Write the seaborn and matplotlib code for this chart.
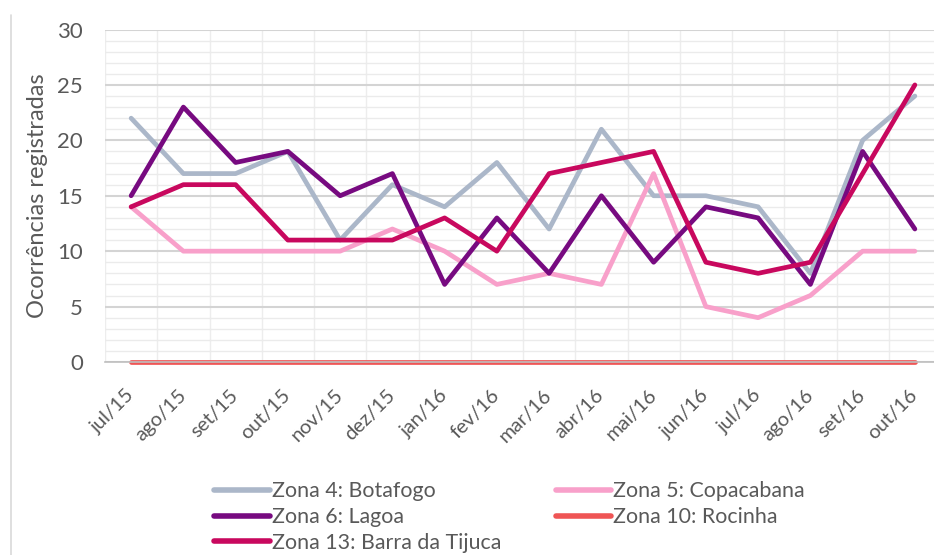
import matplotlib

matplotlib.use("Agg")
import matplotlib.pyplot as plt
import matplotlib.transforms as mtransforms
import numpy as np
import pandas as pd
import seaborn as sns
from matplotlib.lines import Line2D
from matplotlib.ticker import MultipleLocator

months = ["jul/15", "ago/15", "set/15", "out/15", "nov/15", "dez/15", "jan/16", "fev/16",
          "mar/16", "abr/16", "mai/16", "jun/16", "jul/16", "ago/16", "set/16", "out/16"]

botafogo = [22, 17, 17, 19, 11, 16, 14, 18, 12, 21, 15, 15, 14, 8, 20, 24]
copacabana = [14, 10, 10, 10, 10, 12, 10, 7, 8, 7, 17, 5, 4, 6, 10, 10]
lagoa = [15, 23, 18, 19, 15, 17, 7, 13, 8, 15, 9, 14, 13, 7, 19, 12]
rocinha = [0] * 16
barra = [14, 16, 16, 11, 11, 11, 13, 10, 17, 18, 19, 9, 8, 9, 17, 25]

series = {
    "Zona 4: Botafogo": botafogo,
    "Zona 5: Copacabana": copacabana,
    "Zona 6: Lagoa": lagoa,
    "Zona 10: Rocinha": rocinha,
    "Zona 13: Barra da Tijuca": barra,
}
colors = {
    "Zona 4: Botafogo": "#ABB7C9",
    "Zona 5: Copacabana": "#F8A0CA",
    "Zona 6: Lagoa": "#770A80",
    "Zona 10: Rocinha": "#EF5555",
    "Zona 13: Barra da Tijuca": "#C8085E",
}

rows = []
for name, vals in series.items():
    for i, v in enumerate(vals):
        rows.append({"pos": i, "valor": v, "zona": name})
df = pd.DataFrame(rows)

sns.set_style("white")
plt.rcParams["font.family"] = ["Lato", "DejaVu Sans"]
text_color = "#595959"

fig = plt.figure(figsize=(9.34, 5.55), dpi=100, facecolor="white")
ax = fig.add_axes([105 / 934, 1 - 362 / 555, 836 / 934, (362 - 29.5) / 555])

# gridlines
ax.yaxis.set_minor_locator(MultipleLocator(1))
ax.set_yticks(np.arange(0, 31, 5))
ax.grid(which="minor", axis="y", color="#EBEBEB", lw=1.0)
ax.grid(which="major", axis="y", color="#D4D4D4", lw=1.5)
ax.set_xticks(np.arange(-0.5, len(months), 1), minor=True)
ax.grid(which="minor", axis="x", color="#EDEDED", lw=1.0)
ax.set_axisbelow(True)

sns.lineplot(data=df, x="pos", y="valor", hue="zona", palette=colors,
             lw=3.4, ax=ax, legend=False, sort=False)
for ln in ax.lines:
    ln.set_clip_on(False)

ax.set_xlim(-0.5, len(months) - 0.5)
ax.set_ylim(0, 30)
ax.set_xticks(np.arange(len(months)))
ax.set_xticklabels(months, rotation=45, ha="right", va="center",
                   rotation_mode="anchor", fontsize=14.5, color=text_color)
shift = mtransforms.ScaledTranslation(8 / 100, 0, fig.dpi_scale_trans)
for lab in ax.get_xticklabels():
    lab.set_transform(lab.get_transform() + shift)
ax.tick_params(axis="x", which="major", length=0, pad=22)
ax.tick_params(axis="x", which="minor", length=5, color="#BFBFBF", width=1)
ax.tick_params(axis="y", which="both", length=0, pad=16, labelsize=16, labelcolor=text_color)

for s in ["top", "right", "left"]:
    ax.spines[s].set_visible(False)
ax.spines["bottom"].set_color("#BFBFBF")
ax.spines["bottom"].set_linewidth(1.2)

ax.set_xlabel("")
ax.set_ylabel("Ocorrências registradas", fontsize=17, color=text_color, va="center")
ax.yaxis.set_label_coords((38 - 105) / 836, 0.5)

order = ["Zona 4: Botafogo", "Zona 6: Lagoa", "Zona 13: Barra da Tijuca",
         "Zona 5: Copacabana", "Zona 10: Rocinha"]
handles = [Line2D([0], [0], color=colors[n], lw=4, solid_capstyle="round") for n in order]
fig.legend(handles, order, loc="upper left", bbox_to_anchor=(214 / 934, 1 - 481 / 555),
           ncol=2, frameon=False, fontsize=15.4, handlelength=2.6, handletextpad=0.1,
           columnspacing=2.55, labelspacing=0.28, borderpad=0, borderaxespad=0,
           labelcolor=text_color)

fig.add_artist(Line2D([11 / 934, 11 / 934], [0, 1 - 15 / 555], color="#D9D9D9", lw=1.2))

fig.savefig("out.png", dpi=100, facecolor="white")
